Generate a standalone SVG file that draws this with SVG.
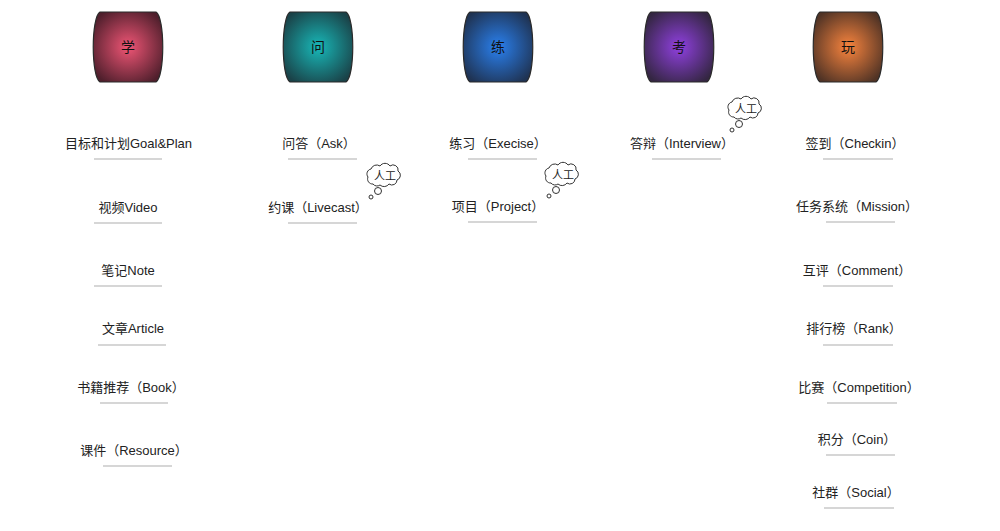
<svg xmlns="http://www.w3.org/2000/svg" width="1000" height="531" viewBox="0 0 1000 531">
<defs>
<radialGradient id="gXue" cx="50%" cy="50%" r="60%"><stop offset="0" stop-color="#ef5575"/><stop offset="1" stop-color="#4f1f2c"/></radialGradient>
<radialGradient id="gWen" cx="50%" cy="50%" r="60%"><stop offset="0" stop-color="#18b8b8"/><stop offset="1" stop-color="#1a4248"/></radialGradient>
<radialGradient id="gLian" cx="50%" cy="50%" r="60%"><stop offset="0" stop-color="#2a80ee"/><stop offset="1" stop-color="#1f3353"/></radialGradient>
<radialGradient id="gKao" cx="50%" cy="50%" r="60%"><stop offset="0" stop-color="#9040e0"/><stop offset="1" stop-color="#342642"/></radialGradient>
<radialGradient id="gWan" cx="50%" cy="50%" r="60%"><stop offset="0" stop-color="#f8843e"/><stop offset="1" stop-color="#503325"/></radialGradient>
<path id="box" d="M -28,12 L 28,12 C 37,17 37,77 28,82 L -28,82 C -37,77 -37,17 -28,12 Z"/>
<g id="cloud">
<path d="M -12,8 a5,5 0 0 1 -5,-7 a5,5 0 0 1 3,-8 a6,6 0 0 1 9,-3 a6,6 0 0 1 10,0 a5,5 0 0 1 8,5 a5,5 0 0 1 -1,9 a5,5 0 0 1 -8,4 a6,6 0 0 1 -9,1 a5,5 0 0 1 -7,-1 z" fill="#fff" stroke="#333" stroke-width="1"/>
<circle cx="-7" cy="15" r="3.5" fill="#fff" stroke="#333" stroke-width="1"/>
<circle cx="-14" cy="21" r="2" fill="#fff" stroke="#333" stroke-width="1"/>
<text x="0" y="4" class="ct">人工</text>
</g>
</defs>
<style>
.hd use{stroke:#2a2a2a;stroke-width:1.2;stroke-linejoin:round}
.ht{font-family:"Liberation Sans","Noto Sans CJK SC",sans-serif;font-size:14px;fill:#111;text-anchor:middle}
.it{font-family:"Liberation Sans","Noto Sans CJK SC",sans-serif;font-size:13px;fill:#222;text-anchor:middle}
.ct{font-family:"Liberation Sans","Noto Sans CJK SC",sans-serif;font-size:11px;fill:#222;text-anchor:middle}
.ul line{stroke:#c8c8c8;stroke-width:1.5}
</style>
<rect width="1000" height="531" fill="#fff"/>

<g id="head-xue" class="hd"><use href="#box" transform="translate(128,0)" fill="url(#gXue)"/><text class="ht" x="128" y="52">学</text></g>
<g id="head-wen" class="hd"><use href="#box" transform="translate(318,0)" fill="url(#gWen)"/><text class="ht" x="318" y="52">问</text></g>
<g id="head-lian" class="hd"><use href="#box" transform="translate(498,0)" fill="url(#gLian)"/><text class="ht" x="498" y="52">练</text></g>
<g id="head-kao" class="hd"><use href="#box" transform="translate(679,0)" fill="url(#gKao)"/><text class="ht" x="679" y="52">考</text></g>
<g id="head-wan" class="hd"><use href="#box" transform="translate(848,0)" fill="url(#gWan)"/><text class="ht" x="848" y="52">玩</text></g>

<g id="connectors" class="ul">
<line x1="94" y1="159" x2="162" y2="159"/>
<line x1="94" y1="223" x2="162" y2="223"/>
<line x1="94" y1="286" x2="162" y2="286"/>
<line x1="98" y1="345" x2="166" y2="345"/>
<line x1="100" y1="403" x2="168" y2="403"/>
<line x1="103" y1="466" x2="172" y2="466"/>
<line x1="288" y1="159" x2="357" y2="159"/>
<line x1="288" y1="223" x2="357" y2="223"/>
<line x1="468" y1="159" x2="537" y2="159"/>
<line x1="468" y1="222" x2="537" y2="222"/>
<line x1="652" y1="159" x2="721" y2="159"/>
<line x1="823" y1="159" x2="893" y2="159"/>
<line x1="826" y1="222" x2="895" y2="222"/>
<line x1="823" y1="286" x2="893" y2="286"/>
<line x1="823" y1="345" x2="893" y2="345"/>
<line x1="827" y1="403" x2="897" y2="403"/>
<line x1="826" y1="455" x2="895" y2="455"/>
<line x1="824" y1="508" x2="894" y2="508"/>
</g>

<g id="xue-goal"><text class="it" x="128.5" y="148">目标和计划Goal&amp;Plan</text></g>
<g id="xue-video"><text class="it" x="128" y="212">视频Video</text></g>
<g id="xue-note"><text class="it" x="128" y="275">笔记Note</text></g>
<g id="xue-article"><text class="it" x="133" y="333">文章Article</text></g>
<g id="xue-book"><text class="it" x="131" y="392">书籍推荐（Book）</text></g>
<g id="xue-resource"><text class="it" x="134" y="455">课件（Resource）</text></g>

<g id="wen-ask"><text class="it" x="319" y="148">问答（Ask）</text></g>
<g id="wen-livecast"><text class="it" x="318" y="212">约课（Livecast）</text><use href="#cloud" transform="translate(385,176)"/></g>

<g id="lian-execise"><text class="it" x="498" y="148">练习（Execise）</text></g>
<g id="lian-project"><text class="it" x="498" y="211">项目（Project）</text><use href="#cloud" transform="translate(563,175)"/></g>

<g id="kao-interview"><text class="it" x="682" y="148">答辩（Interview）</text><use href="#cloud" transform="translate(746,109)"/></g>

<g id="wan-checkin"><text class="it" x="855" y="148">签到（Checkin）</text></g>
<g id="wan-mission"><text class="it" x="857" y="211">任务系统（Mission）</text></g>
<g id="wan-comment"><text class="it" x="857" y="275">互评（Comment）</text></g>
<g id="wan-rank"><text class="it" x="854" y="333">排行榜（Rank）</text></g>
<g id="wan-competition"><text class="it" x="859" y="392">比赛（Competition）</text></g>
<g id="wan-coin"><text class="it" x="857" y="444">积分（Coin）</text></g>
<g id="wan-social"><text class="it" x="856" y="497">社群（Social）</text></g>
</svg>
